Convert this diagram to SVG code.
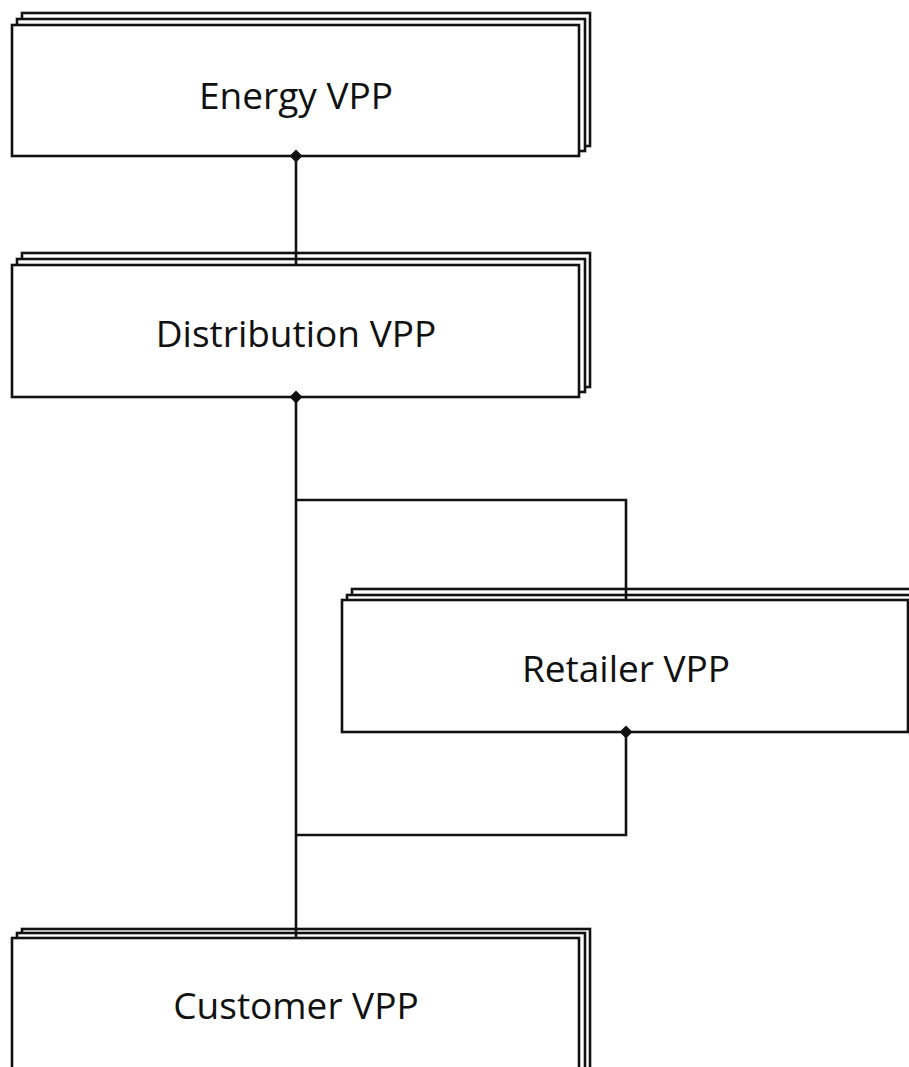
<svg xmlns="http://www.w3.org/2000/svg" width="909" height="1067" viewBox="0 0 909 1067">
<style>
.b{fill:#fff;stroke:#111;stroke-width:2.6}
.c{fill:none;stroke:#111;stroke-width:2.6}
.t{font-family:"Open Sans","Noto Sans",sans-serif;font-size:37px;fill:#111;text-anchor:middle;dominant-baseline:central}
</style>
<defs>
<path id="dia" d="M0,-6.5 L6.5,0 L0,6.5 L-6.5,0 Z" fill="#111"/>
</defs>
<rect width="909" height="1067" fill="#fff"/>
<g id="energy">
<rect class="b" x="22" y="13" width="568" height="133"/>
<rect class="b" x="17" y="19" width="568" height="132"/>
<rect class="b" x="12" y="25" width="567" height="131"/>
<text class="t" x="296" y="94">Energy VPP</text>
</g>
<g id="distribution">
<rect class="b" x="22" y="253" width="568" height="134"/>
<rect class="b" x="17" y="259" width="568" height="133"/>
<rect class="b" x="12" y="265" width="567" height="132"/>
<text class="t" x="296" y="332">Distribution VPP</text>
</g>
<g id="retailer">
<rect class="b" x="352" y="589" width="580" height="133"/>
<rect class="b" x="347" y="595" width="580" height="132"/>
<rect class="b" x="342" y="600" width="566" height="132"/>
<text class="t" x="626" y="667">Retailer VPP</text>
</g>
<g id="customer">
<rect class="b" x="22" y="929" width="568" height="160"/>
<rect class="b" x="17" y="933" width="568" height="160"/>
<rect class="b" x="12" y="938" width="567" height="160"/>
<text class="t" x="296" y="1004">Customer VPP</text>
</g>
<g id="connectors">
<path class="c" d="M296,156 V265"/>
<path class="c" d="M296,397 V938"/>
<path class="c" d="M296,500 H626 V600"/>
<path class="c" d="M626,732 V835 H296"/>
<use href="#dia" x="296" y="156"/>
<use href="#dia" x="296" y="397"/>
<use href="#dia" x="626" y="732"/>
</g>
</svg>
